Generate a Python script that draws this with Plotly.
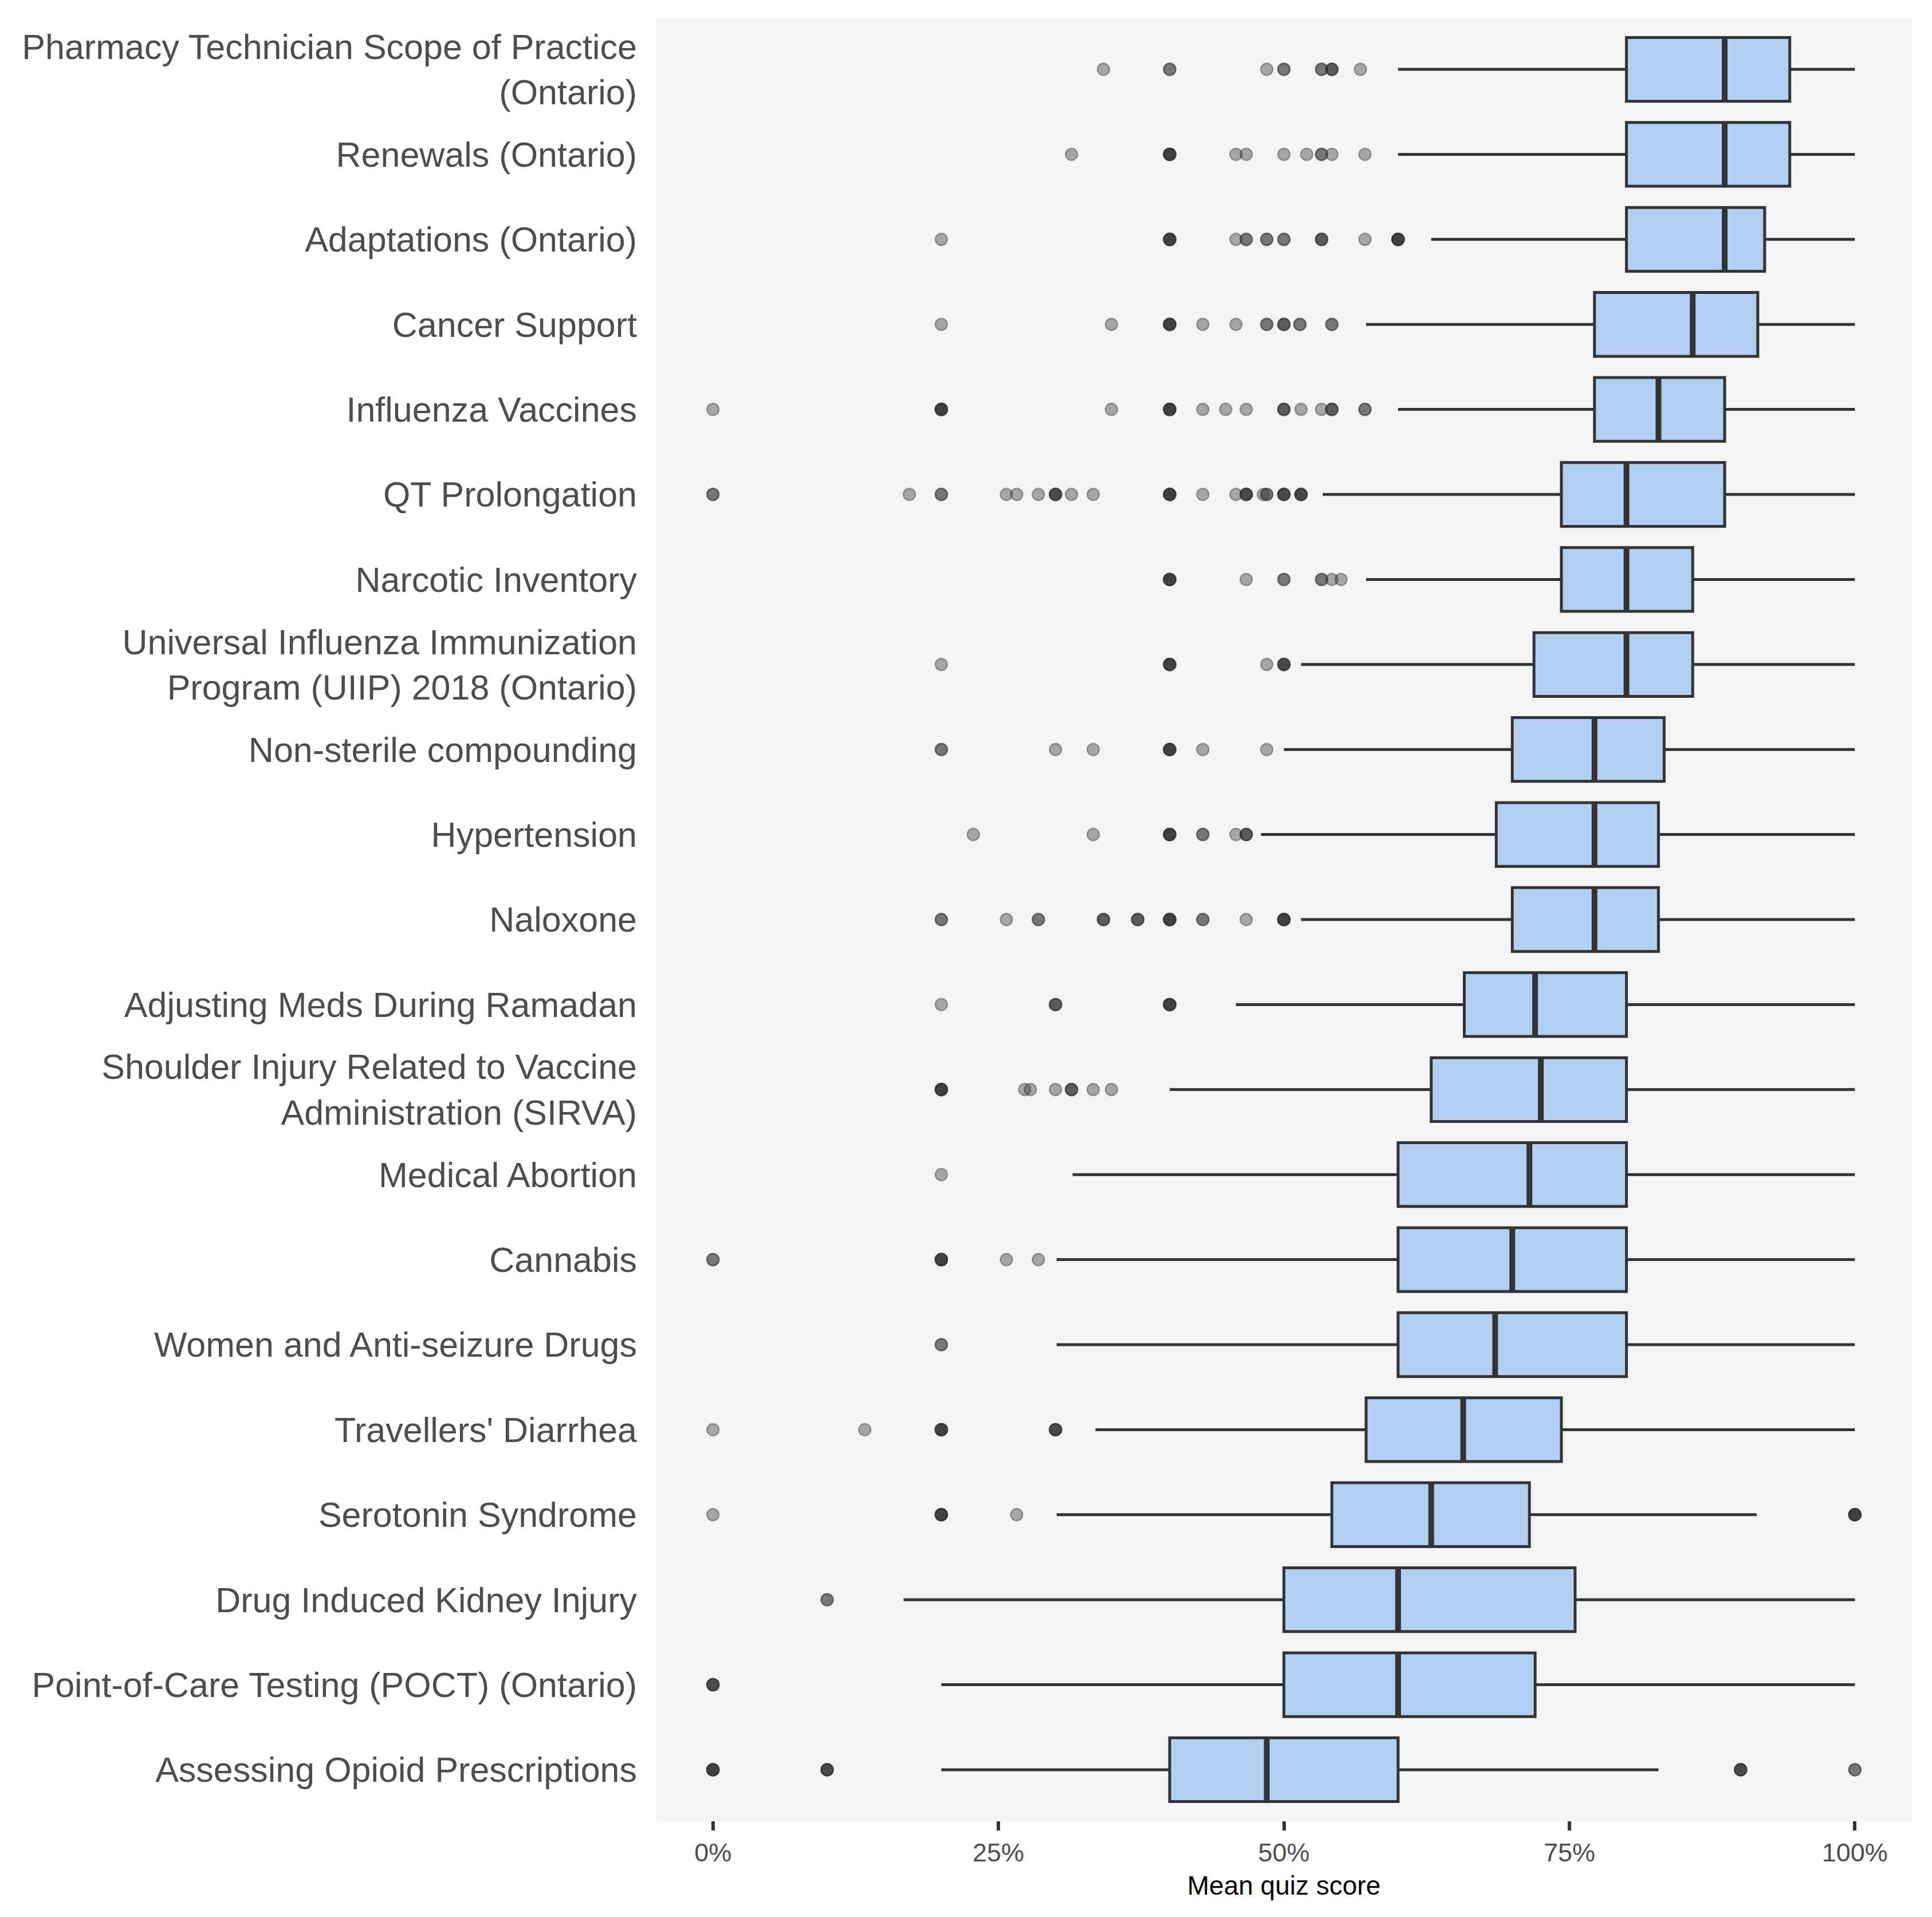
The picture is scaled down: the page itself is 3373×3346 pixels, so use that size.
import plotly.graph_objects as go

# quiz topics, top to bottom
topics = [
    "Pharmacy Technician Scope of Practice<br>(Ontario)",
    "Renewals (Ontario)",
    "Adaptations (Ontario)",
    "Cancer Support",
    "Influenza Vaccines",
    "QT Prolongation",
    "Narcotic Inventory",
    "Universal Influenza Immunization<br>Program (UIIP) 2018 (Ontario)",
    "Non-sterile compounding",
    "Hypertension",
    "Naloxone",
    "Adjusting Meds During Ramadan",
    "Shoulder Injury Related to Vaccine<br>Administration (SIRVA)",
    "Medical Abortion",
    "Cannabis",
    "Women and Anti-seizure Drugs",
    "Travellers' Diarrhea",
    "Serotonin Syndrome",
    "Drug Induced Kidney Injury",
    "Point-of-Care Testing (POCT) (Ontario)",
    "Assessing Opioid Prescriptions",
]

# box stats (mean quiz score, %)
whisker_lo = [60, 60, 62.9, 57.2, 60, 53.4, 57.2, 51.5, 50, 48, 51.5, 45.8, 40, 31.5, 30.1, 30.1, 33.5, 30.1, 16.7, 20, 20]
q1 = [80, 80, 80, 77.2, 77.2, 74.3, 74.3, 71.9, 70, 68.6, 70, 65.8, 62.9, 60, 60, 60, 57.2, 54.2, 50, 50, 40]
median = [88.6, 88.6, 88.6, 85.8, 82.8, 80, 80, 80, 77.2, 77.2, 77.2, 72.0, 72.5, 71.5, 70, 68.5, 65.7, 62.9, 60, 60, 48.5]
q3 = [94.3, 94.3, 92.1, 91.5, 88.6, 88.6, 85.8, 85.8, 83.3, 82.8, 82.8, 80, 80, 80, 80, 80, 74.3, 71.5, 75.5, 72.0, 60]
whisker_hi = [100, 100, 100, 100, 100, 100, 100, 100, 100, 100, 100, 100, 100, 100, 100, 100, 100, 91.4, 100, 100, 82.8]

# outliers per topic: values and how many learners share each value
outlier_values = [
    [34.2, 40, 48.5, 50, 53.3, 54.2, 56.7],
    [31.4, 40, 45.8, 46.7, 50, 52, 53.3, 54.2, 57.1],
    [20, 40, 45.8, 46.7, 48.5, 50, 53.3, 57.1, 60],
    [20, 34.9, 40, 42.9, 45.8, 48.5, 50, 51.4, 54.2],
    [0, 20, 34.9, 40, 42.9, 44.9, 46.7, 50, 51.5, 53.3, 54.2, 57.1],
    [0, 17.2, 20, 25.7, 26.6, 28.5, 30, 31.4, 33.3, 40, 42.9, 45.8, 46.7, 48.2, 48.5, 50, 51.5],
    [40, 46.7, 50, 53.3, 54.2, 55],
    [20, 40, 48.5, 50],
    [20, 30, 33.3, 40, 42.9, 48.5],
    [22.8, 33.3, 40, 42.9, 45.8, 46.7],
    [20, 25.7, 28.5, 34.2, 37.2, 40, 42.9, 46.7, 50],
    [20, 30, 40],
    [20, 27.3, 27.8, 30, 31.4, 33.3, 34.9],
    [20],
    [0, 20, 25.7, 28.5],
    [20],
    [0, 13.3, 20, 30],
    [0, 20, 26.6, 100],
    [10],
    [0],
    [0, 10, 90, 100],
]
outlier_counts = [
    [1, 2, 1, 2, 2, 3, 1],
    [1, 5, 1, 1, 1, 1, 2, 1, 1],
    [1, 5, 1, 2, 2, 2, 3, 1, 5],
    [1, 1, 5, 1, 1, 2, 3, 2, 2],
    [1, 5, 1, 5, 1, 1, 1, 3, 1, 1, 3, 2],
    [2, 1, 2, 1, 1, 1, 4, 1, 1, 5, 1, 1, 4, 1, 2, 4, 4],
    [5, 1, 2, 2, 1, 1],
    [1, 5, 1, 4],
    [2, 1, 1, 5, 1, 1],
    [1, 1, 5, 2, 1, 3],
    [2, 1, 2, 3, 3, 5, 2, 1, 5],
    [1, 3, 5],
    [5, 1, 1, 1, 3, 1, 1],
    [1],
    [2, 5, 1, 1],
    [2],
    [1, 1, 5, 4],
    [1, 5, 1, 5],
    [2],
    [4],
    [5, 4, 4, 2],
]

# expand outliers into one point per learner so the alpha stacks up
pt_x, pt_y = [], []
for topic, vals, counts in zip(topics, outlier_values, outlier_counts):
    for v, n in zip(vals, counts):
        pt_x += [v] * n
        pt_y += [topic] * n

fig = go.Figure()

fig.add_trace(go.Box(
    y=topics,
    q1=q1, median=median, q3=q3,
    lowerfence=whisker_lo, upperfence=whisker_hi,
    orientation="h",
    boxpoints=False,
    whiskerwidth=0,
    width=0.75,
    fillcolor="#b3cff2",
    line=dict(color="#333333", width=5),
    hoverinfo="skip",
    showlegend=False,
))

# thicker median bar, like ggplot draws it
fig.add_trace(go.Box(
    y=topics,
    q1=median, median=median, q3=median,
    lowerfence=median, upperfence=median,
    orientation="h",
    boxpoints=False,
    whiskerwidth=0,
    width=0.75,
    fillcolor="rgba(0,0,0,0)",
    line=dict(color="#333333", width=10),
    hoverinfo="skip",
    showlegend=False,
))

fig.add_trace(go.Scatter(
    x=pt_x, y=pt_y,
    mode="markers",
    marker=dict(color="rgba(51,51,51,0.4)", size=21,
                line=dict(color="rgba(51,51,51,0.4)", width=2.5)),
    showlegend=False,
))

# page body adds 8px, so the figure is trimmed by that much
fig.update_layout(
    width=3357, height=3330,
    margin=dict(l=1137, r=27, t=24, b=160, autoexpand=False),
    paper_bgcolor="white",
    plot_bgcolor="#f4f4f4",
    boxmode="overlay",
    boxgap=0.25, boxgroupgap=0,
    font=dict(family="Liberation Sans, Arial, sans-serif", color="#4d4d4d"),
)

fig.update_xaxes(
    range=[-5, 105],
    tickvals=[0, 25, 50, 75, 100],
    ticktext=["0%", "25%", "50%", "75%", "100%"],
    ticks="outside", ticklen=16, tickwidth=6, tickcolor="#333333",
    tickfont=dict(size=45, color="#4d4d4d"),
    showgrid=False, zeroline=False, showline=False,
    title=dict(text="Mean quiz score", font=dict(size=46, color="black"), standoff=16),
)

fig.update_yaxes(
    type="category",
    categoryorder="array", categoryarray=topics,
    range=[20.6, -0.6],
    ticks="", ticklabelstandoff=32,
    tickfont=dict(size=61, color="#4d4d4d"),
    showgrid=False, zeroline=False, showline=False,
)

fig.write_html("out.html")
